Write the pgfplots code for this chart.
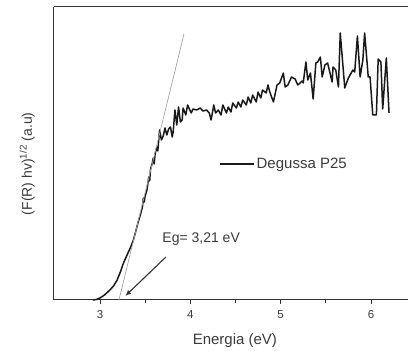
\documentclass[border=0pt]{standalone}
\usepackage{fontspec}
\setmainfont{Liberation Sans}
\usepackage{pgfplots}
\pgfplotsset{compat=1.18}
\usetikzlibrary{arrows.meta}
\definecolor{axgray}{HTML}{333333}
\definecolor{txtgray}{HTML}{3A3A3A}
\begin{document}
\begin{tikzpicture}
\path[use as bounding box] (-54pt,-51pt) rectangle (354pt,300pt);
\begin{axis}[
  at={(0,0)}, anchor=south west,
  width=354pt, height=293pt, scale only axis,
  xmin=2.491, xmax=6.41, ymin=0, ymax=293,
  axis x line*=bottom, axis y line*=left,
  axis line style={axgray, line width=1pt, -},
  ytick=\empty,
  xtick={3,4,5,6},
  minor xtick={3.5,4.5,5.5},
  tick align=outside,
  major tick length=4pt, minor tick length=3pt,
  tick style={axgray, line width=0.9pt},
  /pgf/number format/assume math mode=true,
  xticklabel style={font=\fontsize{11.5}{12}\selectfont, text=txtgray, yshift=-3pt},
  xlabel={Energia (eV)},
  xlabel style={font=\fontsize{15}{16}\selectfont, text=txtgray, at={(axis description cs:0.511,-0.137)}, anchor=center},
  ylabel={(F(R) hv)\textsuperscript{1/2} (a.u)},
  ylabel style={font=\fontsize{14}{16}\selectfont, text=txtgray, at={(axis description cs:-0.076,0.465)}, anchor=center, rotate=0},
  legend style={draw=none, fill=none, at={(axis description cs:0.466,0.464)}, anchor=west, inner xsep=0pt, font=\fontsize{15}{16}\selectfont, text=txtgray},
  legend image code/.code={\draw[#1] (0pt,0pt) -- (34pt,0pt);},
  clip=false,
]
\addplot[black!90, line width=1.5pt, line join=round] table {
2.92 0
2.96 0.5
3.00 2
3.05 5
3.11 10
3.15 14
3.19 20
3.23 29
3.26 37
3.31 47
3.34 53
3.37 60
3.40 70
3.42 77
3.45 86
3.47 93
3.48 102
3.49 98
3.50 104
3.52 110
3.54 123
3.55 119
3.56 131
3.58 137
3.59 142
3.60 136
3.61 146
3.63 153
3.64 149
3.66 170
3.68 160
3.70 164
3.72 172
3.74 165
3.76 171
3.78 173
3.80 163
3.81 168
3.83 190
3.85 175
3.87 193
3.89 178
3.91 180
3.92 192
3.95 185
3.97 195
4.01 187
4.03 191
4.07 190
4.11 192
4.14 189
4.18 190
4.21 187
4.23 180
4.26 195
4.28 187
4.31 190
4.34 185
4.36 195
4.40 187
4.42 193
4.45 188
4.47 197
4.51 192
4.53 198
4.56 193
4.58 200
4.62 195
4.64 203
4.67 197
4.69 205
4.73 198
4.75 208
4.78 202
4.80 210
4.84 207
4.86 215
4.88 208
4.92 198
4.96 215
4.99 217
5.03 227
5.05 213
5.08 215
5.12 223
5.16 221
5.19 215
5.24 219
5.25 217
5.28 238
5.30 220
5.33 227
5.36 201
5.39 237
5.41 238
5.44 243
5.46 223
5.49 235
5.52 237
5.57 218
5.58 233
5.61 230
5.64 213
5.66 267
5.71 212
5.75 222
5.80 230
5.82 228
5.85 264
5.88 223
5.91 240
5.93 267
5.97 223
5.99 223
6.02 185
6.06 185
6.08 241
6.11 238
6.13 191
6.17 242
6.20 187
};
\addlegendentry{Degussa P25}
\addplot[gray!70, line width=0.7pt, forget plot] coordinates {(3.21,0) (3.93,266)};
\draw[axgray, line width=1pt] (rel axis cs:0,1) -- (rel axis cs:1,1);
\draw[axgray, line width=1.1pt, -{Latex[length=6pt,width=5pt]}] (axis cs:3.73,43) -- (axis cs:3.28,4);
\node[font=\fontsize{14}{16}\selectfont, text=txtgray] at (axis cs:4.12,61) {Eg= 3,21 eV};
\end{axis}
\end{tikzpicture}
\end{document}
